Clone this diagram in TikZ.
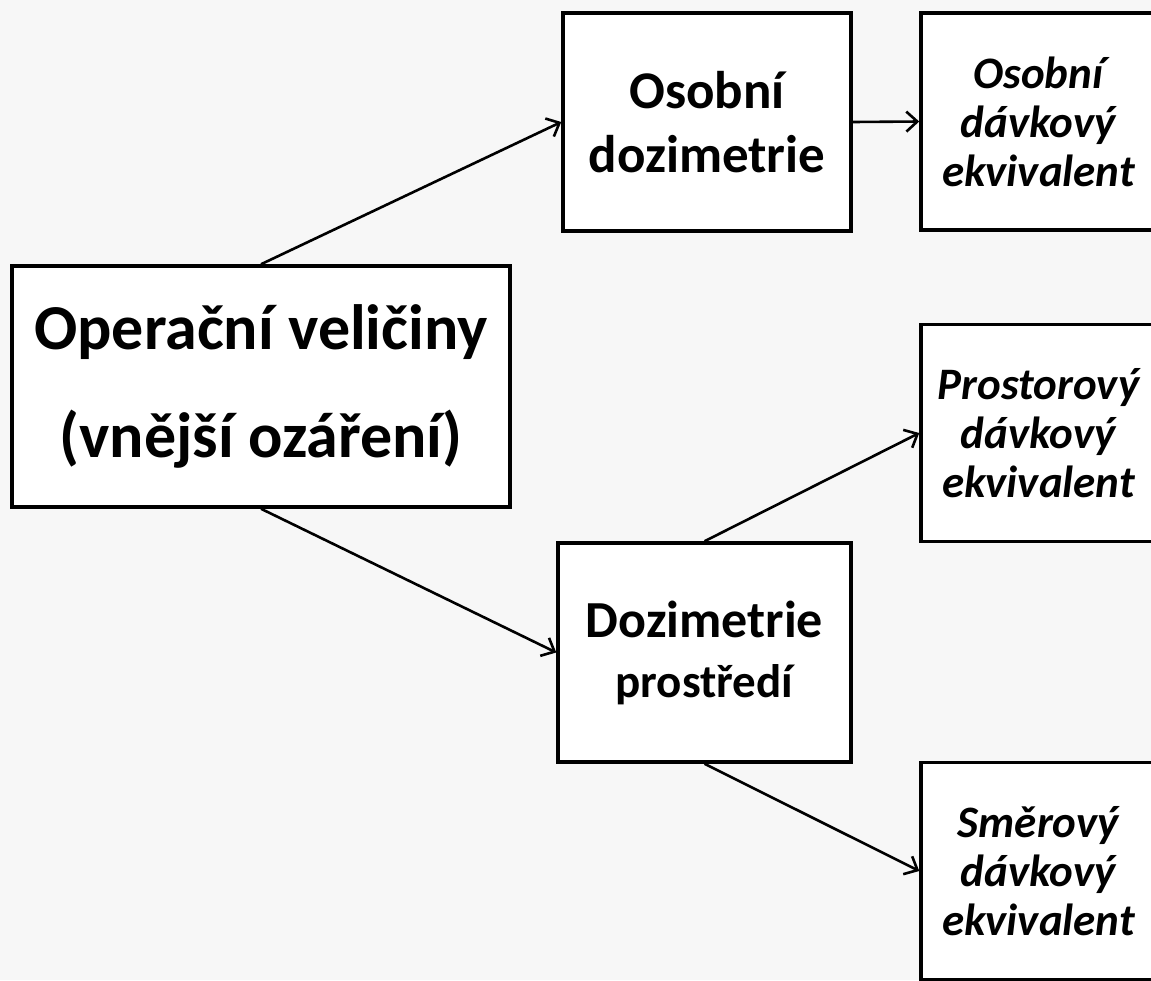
\documentclass[tikz,border=0pt]{standalone}
\usepackage{fontspec}
\setmainfont{Carlito}
\usetikzlibrary{arrows.meta}
\definecolor{pagegray}{HTML}{F7F7F7}

\begin{document}
\begin{tikzpicture}[x=1pt,y=-1pt,
    box/.style={draw, line width=3.5pt, fill=white, align=center, inner sep=0pt},
    conn/.style={line width=2.6pt, -{Straight Barb[length=11pt,width=20pt]}}]
    \fill[pagegray] (0,0) rectangle (1151,980);
    \useasboundingbox (0,0) rectangle (1151,980);
    % left: the main quantity
    \node[box, minimum width=498pt, minimum height=241pt,
        font=\bfseries\fontsize{64}{108}\selectfont] (oper) at (261,386.5)
        {Operační veličiny\\(vnější ozáření)};
    % middle column
    \node[box, minimum width=288pt, minimum height=218pt,
        font=\bfseries\fontsize{53}{64}\selectfont] (osobni) at (707,122)
        {Osobní\\dozimetrie};
    \node[box, minimum width=293pt, minimum height=219pt,
        font=\bfseries\fontsize{52}{60}\selectfont] (prostredi) at (704.5,652.5)
        {Dozimetrie\\{\fontsize{47}{60}\selectfont prostředí}};
    % right column, cut by the page edge
    \begin{scope}[box/.append style={minimum width=235pt, minimum height=217pt,
        font=\bfseries\itshape\fontsize{45}{49}\selectfont}]
        \node[box] (hp) at (1038.5,121.5) {Osobní\\dávkový\\ekvivalent};
        \node[box] (hstar) at (1038.5,433) {Prostorový\\dávkový\\ekvivalent};
        \node[box] (hprime) at (1038.5,871) {Směrový\\dávkový\\ekvivalent};
    \end{scope}
    \draw[conn] (oper.north) -- (osobni.west);
    \draw[conn] (oper.south) -- (prostredi.west);
    \draw[conn] (osobni.east) -- (hp.west);
    \draw[conn] (prostredi.north) -- (hstar.west);
    \draw[conn] (prostredi.south) -- (hprime.west);
\end{tikzpicture}
\end{document}
